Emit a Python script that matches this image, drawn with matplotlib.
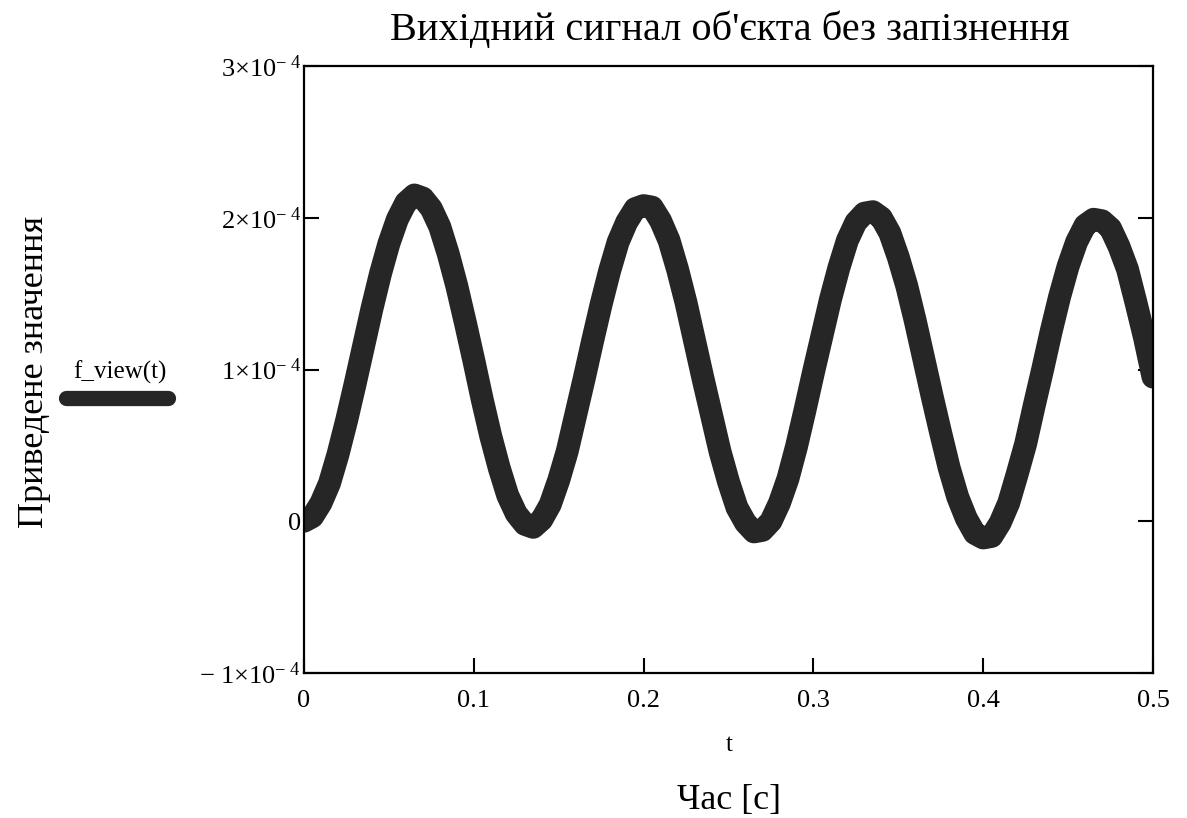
"""Output signal of the plant without delay (Mathcad-style plot)."""
import matplotlib
matplotlib.use("Agg")
import matplotlib.pyplot as plt
from matplotlib.lines import Line2D

# time, s (step 0.005)
t = [round(0.005 * i, 3) for i in range(101)]
# f_view(t), units of 1e-4
f_view = [0.00, 0.03, 0.12, 0.25, 0.44, 0.66, 0.90, 1.15, 1.40, 1.63,
          1.83, 1.99, 2.10, 2.15, 2.13, 2.06, 1.94, 1.76, 1.55, 1.31,
          1.06, 0.80, 0.56, 0.35, 0.17, 0.05, -0.02, -0.04, 0.01, 0.11,
          0.27, 0.46, 0.70, 0.94, 1.19, 1.43, 1.65, 1.84, 1.97, 2.06,
          2.08, 2.07, 1.98, 1.85, 1.66, 1.44, 1.19, 0.94, 0.70, 0.46,
          0.26, 0.09, -0.01, -0.07, -0.06, 0.00, 0.12, 0.28, 0.49, 0.73,
          0.98, 1.22, 1.46, 1.67, 1.85, 1.97, 2.03, 2.04, 2.00, 1.90,
          1.74, 1.55, 1.32, 1.07, 0.82, 0.58, 0.35, 0.16, 0.02, -0.08,
          -0.11, -0.10, -0.01, 0.12, 0.31, 0.51, 0.76, 1.00, 1.25, 1.48,
          1.68, 1.84, 1.95, 1.99, 1.98, 1.93, 1.81, 1.66, 1.44, 1.21, 0.95]

x_ticks = [0, 0.1, 0.2, 0.3, 0.4, 0.5]
x_labels = ["0", "0.1", "0.2", "0.3", "0.4", "0.5"]
y_ticks = [-1e-4, 0, 1e-4, 2e-4, 3e-4]
y_labels = [r"$-\ 1{\times}10^{-\ 4}$", "0", r"$1{\times}10^{-\ 4}$",
            r"$2{\times}10^{-\ 4}$", r"$3{\times}10^{-\ 4}$"]

TITLE = "Вихідний сигнал об'єкта без запізнення"
YLABEL = "Приведене значення"
XVAR = "t"
XLABEL = "Час [с]"
LEGEND = "f_view(t)"

plt.rcParams["font.family"] = ["Liberation Serif", "DejaVu Serif"]
plt.rcParams["mathtext.fontset"] = "custom"
plt.rcParams["mathtext.rm"] = "Liberation Serif"
plt.rcParams["mathtext.it"] = "Liberation Serif:italic"
plt.rcParams["mathtext.default"] = "rm"

W, H = 1187, 818
fig = plt.figure(figsize=(W / 100, H / 100), dpi=100)
ax = fig.add_axes([304 / W, 1 - 673 / H, 849 / W, 607 / H])

ax.plot(t, [v * 1e-4 for v in f_view], color="#262626", lw=16.5,
        solid_capstyle="round", solid_joinstyle="round")

ax.set_xlim(0, 0.5)
ax.set_ylim(-1e-4, 3e-4)
ax.set_xticks(x_ticks)
ax.set_xticklabels(x_labels, fontsize=19)
ax.set_yticks(y_ticks)
ax.set_yticklabels(y_labels, fontsize=19)
ax.tick_params(axis="x", direction="in", length=11, width=1.5, pad=12)
ax.tick_params(axis="y", direction="in", length=11, width=1.5, pad=2,
               right=True)
for s in ax.spines.values():
    s.set_linewidth(1.6)

fig.text(730 / W, 1 - 30 / H, TITLE, ha="center", va="center", fontsize=29)
fig.text(35 / W, 1 - 372 / H, YLABEL, ha="center", va="center",
         rotation=90, fontsize=26)
fig.text(729 / W, 1 - 745 / H, XVAR, ha="center", va="center", fontsize=18)
fig.text(729 / W, 1 - 800 / H, XLABEL, ha="center", va="center", fontsize=26)

# legend: label above a thick line sample
fig.text(120 / W, 1 - 372 / H, LEGEND, ha="center", va="center", fontsize=18)
fig.add_artist(Line2D([66 / W, 168 / W], [1 - 398 / H, 1 - 398 / H],
                      transform=fig.transFigure, color="#262626", lw=11,
                      solid_capstyle="round"))

fig.savefig("out.png", dpi=100)
plt.close(fig)
